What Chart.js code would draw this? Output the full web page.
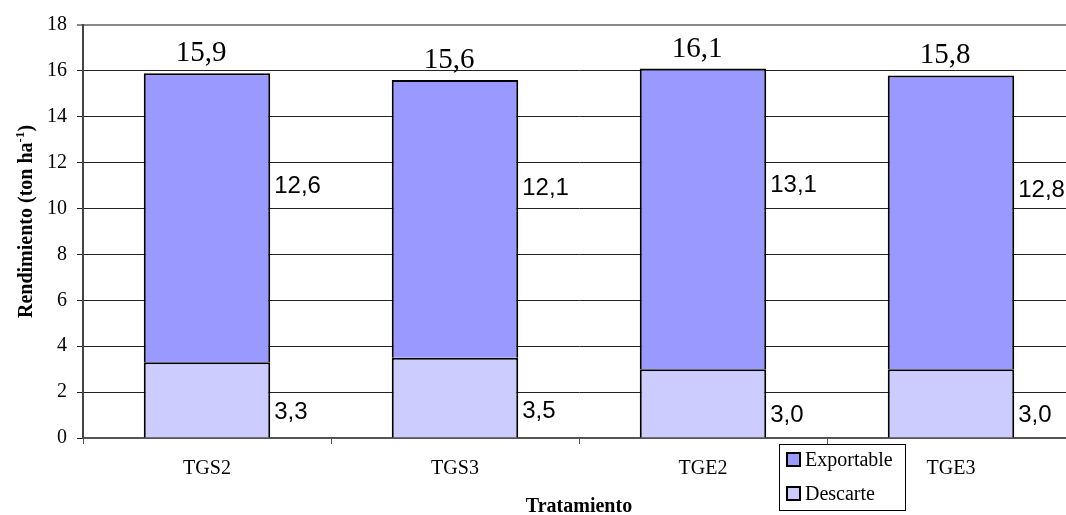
<!DOCTYPE html>
<html>
<head>
<meta charset="utf-8">
<script src="https://cdn.jsdelivr.net/npm/chart.js@4.4.1/dist/chart.umd.min.js"></script>
<style>
  html, body { margin: 0; padding: 0; background: #fff; overflow: hidden; }
  #wrap { width: 1066px; height: 515px; overflow: hidden; }
  canvas { display: block; }
</style>
</head>
<body>
<!-- the plot area runs slightly past the right edge of the visible frame -->
<div id="wrap"><canvas id="c" width="1080" height="515"></canvas></div>
<script>
// Yield per treatment (ton/ha), stacked: discarded fruit at the base, exportable fruit on top
const categories = ['TGS2', 'TGS3', 'TGE2', 'TGE3'];
const descarte = [3.3, 3.5, 3.0, 3.0];
const exportable = [12.6, 12.1, 13.1, 12.8];
const yTicks = [0, 2, 4, 6, 8, 10, 12, 14, 16, 18];

const COLOR_EXPORT = '#9999FF';
const COLOR_DESCARTE = '#CCCCFF';
const SERIF = '"Liberation Serif", "Times New Roman", serif';
const SANS = '"Liberation Sans", Arial, sans-serif';

const fmt = v => v.toFixed(1).replace('.', ',');

// Value labels: segment values beside each bar, stack total above it
const valueLabels = {
  id: 'valueLabels',
  afterDatasetsDraw(chart) {
    const ctx = chart.ctx;
    const metaD = chart.getDatasetMeta(0);
    const metaE = chart.getDatasetMeta(1);
    ctx.save();
    categories.forEach((_, i) => {
      const bd = metaD.data[i];
      const be = metaE.data[i];
      const right = bd.x + bd.width / 2;
      ctx.fillStyle = '#000';
      ctx.textBaseline = 'middle';
      ctx.textAlign = 'left';
      ctx.font = '24px ' + SANS;
      const dy = bd.base - 0.33 * (bd.base - bd.y);
      ctx.fillText(fmt(descarte[i]), right + 4, dy);
      const ey = be.base - 0.61 * (be.base - be.y);
      ctx.fillText(fmt(exportable[i]), right + 4, ey);
      const total = descarte[i] + exportable[i];
      ctx.textAlign = 'center';
      ctx.textBaseline = 'alphabetic';
      ctx.font = '29px ' + SERIF;
      ctx.fillText(fmt(total), be.x - 6, be.y - 12);
    });
    ctx.restore();
  }
};

// Vertical axis title with a real superscript exponent
const yTitle = {
  id: 'yTitle',
  afterDraw(chart) {
    const ctx = chart.ctx;
    ctx.save();
    ctx.translate(32, 318);
    ctx.rotate(-Math.PI / 2);
    ctx.fillStyle = '#000';
    ctx.textAlign = 'left';
    ctx.textBaseline = 'alphabetic';
    ctx.font = 'bold 20px ' + SERIF;
    const main = 'Rendimiento (ton ha';
    ctx.fillText(main, 0, 0);
    let x = ctx.measureText(main).width;
    ctx.font = 'bold 13px ' + SERIF;
    ctx.fillText('-1', x, -8);
    x += ctx.measureText('-1').width;
    ctx.font = 'bold 20px ' + SERIF;
    ctx.fillText(')', x, 0);
    ctx.restore();
  }
};

// Boxed legend sitting under the category axis
const boxLegend = {
  id: 'boxLegend',
  afterDraw(chart) {
    const ctx = chart.ctx;
    const x0 = 779, y0 = 444, w = 126, h = 66;
    ctx.save();
    ctx.fillStyle = '#fff';
    ctx.fillRect(x0, y0, w, h);
    ctx.strokeStyle = '#000';
    ctx.lineWidth = 1;
    ctx.strokeRect(x0 + 0.5, y0 + 0.5, w, h);
    const items = [
      { label: 'Exportable', color: COLOR_EXPORT, y: 460 },
      { label: 'Descarte', color: COLOR_DESCARTE, y: 494 }
    ];
    items.forEach(it => {
      ctx.fillStyle = it.color;
      ctx.fillRect(787, it.y - 7, 13, 13);
      ctx.lineWidth = 2;
      ctx.strokeStyle = '#000';
      ctx.strokeRect(787, it.y - 7, 13, 13);
      ctx.fillStyle = '#000';
      ctx.font = '20px ' + SERIF;
      ctx.textAlign = 'left';
      ctx.textBaseline = 'middle';
      ctx.fillText(it.label, 805, it.y + 1);
    });
    ctx.restore();
  }
};

new Chart(document.getElementById('c'), {
  type: 'bar',
  data: {
    labels: categories,
    datasets: [
      {
        label: 'Descarte',
        data: descarte,
        backgroundColor: COLOR_DESCARTE,
        borderColor: '#000',
        borderWidth: 2,
        barPercentage: 0.51,
        categoryPercentage: 1
      },
      {
        label: 'Exportable',
        data: exportable,
        backgroundColor: COLOR_EXPORT,
        borderColor: '#000',
        borderWidth: 2,
        barPercentage: 0.51,
        categoryPercentage: 1
      }
    ]
  },
  options: {
    responsive: false,
    animation: false,
    devicePixelRatio: 1,
    layout: { padding: { top: 25, right: 5, bottom: 0, left: 0 } },
    plugins: {
      legend: { display: false },
      tooltip: { enabled: false }
    },
    scales: {
      x: {
        stacked: true,
        afterFit(scale) { scale.height = 77; },
        grid: {
          drawOnChartArea: false,
          drawTicks: true,
          tickLength: 6,
          color: '#555',
          lineWidth: 1,
          offset: true
        },
        border: { color: '#555', width: 2 },
        ticks: {
          color: '#000',
          font: { family: SERIF, size: 20 },
          padding: 13
        },
        title: {
          display: true,
          text: 'Tratamiento',
          color: '#000',
          font: { family: SERIF, size: 20, weight: 'bold', lineHeight: 0.8 },
          padding: { top: 0, bottom: 0 }
        }
      },
      y: {
        stacked: true,
        min: 0,
        max: 18,
        afterFit(scale) { scale.width = 83; },
        afterBuildTicks(scale) { scale.ticks = yTicks.map(v => ({ value: v })); },
        grid: {
          color: ctx => (ctx.tick && ctx.tick.value === 18) ? '#888' : '#222',
          lineWidth: ctx => (ctx.tick && ctx.tick.value === 18) ? 2 : 1,
          drawTicks: true,
          tickLength: 6
        },
        border: { color: '#444', width: 2 },
        ticks: {
          color: '#000',
          font: { family: SERIF, size: 20 },
          padding: 10
        }
      }
    }
  },
  plugins: [valueLabels, yTitle, boxLegend]
});
</script>
</body>
</html>
